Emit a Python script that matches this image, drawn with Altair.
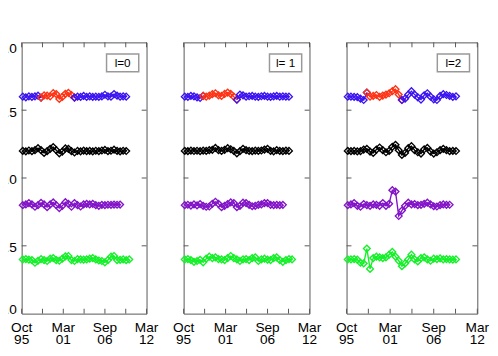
import altair as alt
import pandas as pd

FONT = "Liberation Sans"
FRAME = "#555555"

# sample times (decimal years)
T = [1995.9, 1996.3, 1996.7, 1997.1, 1997.5, 1997.9, 1998.3, 1998.7, 1999.1, 1999.5,
     1999.9, 2000.3, 2000.7, 2001.1, 2001.5, 2001.9, 2002.3, 2002.7, 2003.1, 2003.5,
     2003.9, 2004.3, 2004.7, 2005.1, 2005.5, 2005.9, 2006.3, 2006.7, 2007.1, 2007.5,
     2007.9, 2008.3, 2008.7, 2009.1, 2009.5, 2009.9]

# panel l=0
P1_TOP = [0.600, 0.595, 0.602, 0.598, 0.602, 0.607, 0.593, 0.609, 0.607, 0.602, 0.626, 0.619,
          0.583, 0.598, 0.621, 0.628, 0.612, 0.593, 0.600, 0.598, 0.605, 0.598, 0.602, 0.598,
          0.600, 0.598, 0.602, 0.614, 0.602, 0.600, 0.619, 0.607, 0.600, 0.602, 0.600]
P1_BLACK = [0.200, 0.197, 0.203, 0.198, 0.205, 0.220, 0.205, 0.185, 0.198, 0.215, 0.228, 0.205,
            0.182, 0.195, 0.218, 0.215, 0.198, 0.188, 0.200, 0.197, 0.202, 0.198, 0.200, 0.196,
            0.201, 0.198, 0.203, 0.207, 0.198, 0.201, 0.209, 0.200, 0.196, 0.201, 0.199]
P1_PURPLE = [-0.200, -0.195, -0.185, -0.195, -0.212, -0.200, -0.183, -0.195, -0.215, -0.195,
             -0.180, -0.200, -0.222, -0.205, -0.178, -0.190, -0.212, -0.185, -0.200, -0.210,
             -0.195, -0.190, -0.195, -0.190, -0.200, -0.205, -0.198, -0.200, -0.197, -0.198,
             -0.196, -0.197, -0.196]
P1_GREEN = [-0.600, -0.598, -0.602, -0.605, -0.625, -0.610, -0.598, -0.605, -0.612, -0.595,
            -0.590, -0.605, -0.610, -0.595, -0.578, -0.575, -0.605, -0.612, -0.598, -0.600,
            -0.602, -0.600, -0.595, -0.590, -0.600, -0.608, -0.612, -0.622, -0.605, -0.580,
            -0.575, -0.605, -0.603, -0.600, -0.606, -0.600]

# panel l=1
P2_TOP = [0.600, 0.598, 0.605, 0.602, 0.595, 0.590, 0.605, 0.600, 0.607, 0.618, 0.625, 0.610,
          0.605, 0.620, 0.630, 0.620, 0.600, 0.578, 0.615, 0.610, 0.600, 0.603, 0.605, 0.600,
          0.598, 0.603, 0.605, 0.600, 0.598, 0.602, 0.605, 0.600, 0.602, 0.600, 0.600]
P2_BLACK = [0.200, 0.198, 0.202, 0.199, 0.201, 0.198, 0.202, 0.200, 0.205, 0.208, 0.222, 0.205,
            0.200, 0.208, 0.220, 0.212, 0.200, 0.182, 0.198, 0.215, 0.205, 0.200, 0.198, 0.202,
            0.200, 0.203, 0.210, 0.215, 0.200, 0.197, 0.205, 0.200, 0.198, 0.202, 0.200]
P2_PURPLE = [-0.200, -0.197, -0.203, -0.195, -0.202, -0.192, -0.205, -0.212, -0.210, -0.190,
             -0.175, -0.190, -0.215, -0.205, -0.192, -0.180, -0.185, -0.215, -0.205, -0.182,
             -0.185, -0.198, -0.208, -0.205, -0.198, -0.195, -0.185, -0.185, -0.198, -0.200,
             -0.198, -0.200, -0.198]
P2_GREEN = [-0.600, -0.598, -0.605, -0.618, -0.612, -0.603, -0.622, -0.595, -0.580, -0.590,
            -0.585, -0.598, -0.600, -0.605, -0.590, -0.575, -0.590, -0.600, -0.612, -0.600,
            -0.598, -0.605, -0.590, -0.585, -0.612, -0.600, -0.595, -0.602, -0.605, -0.590,
            -0.585, -0.605, -0.618, -0.605, -0.598, -0.600]

# panel l=2
P3_TOP = [0.600, 0.600, 0.598, 0.597, 0.585, 0.575, 0.630, 0.600, 0.605, 0.612, 0.598, 0.608,
          0.615, 0.625, 0.640, 0.655, 0.615, 0.575, 0.585, 0.615, 0.640, 0.615, 0.595, 0.578,
          0.610, 0.625, 0.600, 0.580, 0.575, 0.605, 0.618, 0.612, 0.605, 0.598, 0.602]
P3_BLACK = [0.200, 0.198, 0.200, 0.196, 0.198, 0.210, 0.215, 0.195, 0.185, 0.210, 0.225, 0.205,
            0.190, 0.200, 0.230, 0.245, 0.205, 0.170, 0.185, 0.220, 0.235, 0.205, 0.190, 0.180,
            0.212, 0.222, 0.195, 0.180, 0.190, 0.205, 0.215, 0.205, 0.198, 0.200, 0.199]
P3_PURPLE = [-0.200, -0.195, -0.185, -0.205, -0.212, -0.192, -0.200, -0.205, -0.195, -0.198,
             -0.205, -0.185, -0.205, -0.190, -0.090, -0.100, -0.280, -0.240, -0.205, -0.182,
             -0.195, -0.192, -0.200, -0.198, -0.190, -0.182, -0.195, -0.208, -0.210, -0.200,
             -0.195, -0.198, -0.197]
P3_GREEN = [-0.600, -0.600, -0.598, -0.602, -0.625, -0.630, -0.520, -0.670, -0.590, -0.580,
            -0.585, -0.590, -0.585, -0.565, -0.545, -0.580, -0.610, -0.650, -0.630, -0.600,
            -0.565, -0.600, -0.615, -0.590, -0.585, -0.600, -0.610, -0.595, -0.598, -0.593,
            -0.600, -0.598, -0.600, -0.602, -0.600]

PANELS = [
    (P1_TOP, P1_BLACK, P1_PURPLE, P1_GREEN),
    (P2_TOP, P2_BLACK, P2_PURPLE, P2_GREEN),
    (P3_TOP, P3_BLACK, P3_PURPLE, P3_GREEN),
]
PANEL_LABELS = ["l=0", "l= 1", "l=2"]
PANEL_WIDTHS = [128, 129, 134]

RED_FROM, RED_TO = 1998.3, 2002.7

MAJOR = [1995.75, 2001.226, 2006.702, 2012.178]
MINOR = [1998.488, 2003.964, 2009.44]
XLAB = ["Oct\n95", "Mar\n01", "Sep\n06", "Mar\n12"]
YTICKS = [-0.5, 0.0, 0.5]
YLAB_MID = [-0.5, 0.0, 0.5]
YLAB_MID_TEXT = ["-0.5", "0.0", "0.5"]
YLAB_TOP = [1.0]
YLAB_TOP_TEXT = ["1.0"]
YLAB_BOT = [-1.0]
YLAB_BOT_TEXT = ["-1.0"]

SEG_DOMAIN = ["top_a", "top_b", "top_red", "black", "purple", "green"]
SEG_COLORS = ["#3c14f0", "#3c14f0", "#ff3214", "#000000", "#8214c8", "#14f028"]

H = 278


def build(i):
    top, black, purple, green = PANELS[i]
    rows = []
    for k, v in enumerate(top):
        t = T[k]
        if t <= RED_FROM:
            rows.append((t, v, "top_a"))
        if RED_FROM <= t <= RED_TO:
            rows.append((t, v, "top_red"))
        if t >= RED_TO:
            rows.append((t, v, "top_b"))
    for name, arr in (("black", black), ("purple", purple), ("green", green)):
        for k, v in enumerate(arr):
            rows.append((T[k], v, name))
    return pd.DataFrame(rows, columns=["t", "v", "seg"])


def panel(i, w, show_y):
    df = build(i)
    xs = alt.Scale(domain=[MAJOR[0], MAJOR[-1]], nice=False, zero=False)
    ys = alt.Scale(domain=[-1, 1], nice=False, zero=False)
    X = alt.X("t:Q", scale=xs, axis=None)
    Y = alt.Y("v:Q", scale=ys, axis=None)
    color = alt.Color("seg:N", scale=alt.Scale(domain=SEG_DOMAIN, range=SEG_COLORS), legend=None)

    base = alt.Chart(df)
    line = base.mark_line(strokeWidth=1.4).encode(x=X, y=Y, color=color, detail="seg:N", order="t:Q")
    pts = base.mark_point(shape="diamond", filled=False, size=48, strokeWidth=1.4, opacity=1).encode(
        x=X, y=Y, color=color)

    tick_df = pd.DataFrame({"t": MAJOR + MINOR})
    top_ticks = alt.Chart(tick_df).mark_rule(color=FRAME, strokeWidth=1).encode(
        x=X, y=alt.value(0), y2=alt.value(5))
    bot_ticks = alt.Chart(tick_df).mark_rule(color=FRAME, strokeWidth=1).encode(
        x=X, y=alt.value(H - 5), y2=alt.value(H))
    ytick_df = pd.DataFrame({"v": YTICKS})
    left_ticks = alt.Chart(ytick_df).mark_rule(color=FRAME, strokeWidth=1).encode(
        y=Y, x=alt.value(0), x2=alt.value(5))
    right_ticks = alt.Chart(ytick_df).mark_rule(color=FRAME, strokeWidth=1).encode(
        y=Y, x=alt.value(w - 5), x2=alt.value(w))

    xlab = alt.Chart(pd.DataFrame({"t": MAJOR, "lab": XLAB})).mark_text(
        lineBreak="\n", baseline="top", align="center", fontSize=14, font=FONT,
        lineHeight=12.5, color="black").encode(x=X, y=alt.value(H + 8), text="lab:N")

    lab_df = pd.DataFrame({"lab": [PANEL_LABELS[i]]})
    box = alt.Chart(lab_df).mark_rect(fill="white", stroke="#999999", strokeWidth=1.5).encode(
        x=alt.value(w - 41), x2=alt.value(w - 8), y=alt.value(12), y2=alt.value(30))
    boxtxt = alt.Chart(lab_df).mark_text(fontSize=12, font=FONT, align="center",
                                         baseline="middle", color="black").encode(
        x=alt.value(w - 24.5), y=alt.value(21), text="lab:N")

    layers = [line, pts, top_ticks, bot_ticks, left_ticks, right_ticks, xlab, box, boxtxt]

    if show_y:
        ymid = alt.Chart(pd.DataFrame({"v": YLAB_MID, "lab": YLAB_MID_TEXT})).mark_text(
            align="right", baseline="middle", dy=2.5, fontSize=14, font=FONT, color="black").encode(
            x=alt.value(-5), y=Y, text="lab:N")
        ytop = alt.Chart(pd.DataFrame({"v": YLAB_TOP, "lab": YLAB_TOP_TEXT})).mark_text(
            align="right", baseline="top", fontSize=14, font=FONT, color="black").encode(
            x=alt.value(-5), y=Y, text="lab:N")
        ybot = alt.Chart(pd.DataFrame({"v": YLAB_BOT, "lab": YLAB_BOT_TEXT})).mark_text(
            align="right", baseline="alphabetic", fontSize=14, font=FONT, color="black").encode(
            x=alt.value(-5), y=Y, text="lab:N")
        layers += [ymid, ytop, ybot]

    return alt.layer(*layers).properties(width=w, height=H)


chart = alt.hconcat(
    panel(0, PANEL_WIDTHS[0], True),
    panel(1, PANEL_WIDTHS[1], False),
    panel(2, PANEL_WIDTHS[2], False),
    spacing=13,
).properties(
    padding={"left": -16, "top": 30, "right": 0, "bottom": -3}
).configure_view(stroke=FRAME, strokeWidth=1)

chart.save("out.html", embed_options={"renderer": "svg", "actions": False})
